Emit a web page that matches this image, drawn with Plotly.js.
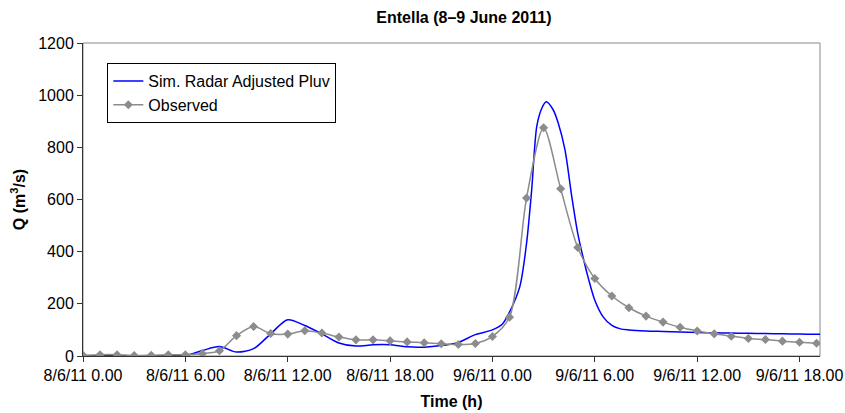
<!DOCTYPE html>
<html>
<head>
<meta charset="utf-8">
<script src="https://cdn.plot.ly/plotly-3.0.1.min.js"></script>
<style>
  html, body { margin: 0; padding: 0; background: #ffffff; }
  #chart { width: 845px; height: 413px; }
</style>
</head>
<body>
<div id="chart"></div>
<script>
// Hours elapsed since 8/6/11 0.00
const obsHours = [0, 1, 2, 3, 4, 5, 6, 7, 8, 9, 10, 11, 12, 13, 14, 15, 16, 17, 18, 19, 20, 21,
  22, 23, 24, 25, 26, 27, 28, 29, 30, 31, 32, 33, 34, 35, 36, 37, 38, 39, 40, 41, 42, 43];
// Observed discharge (m3/s), hourly
const obsQ = [3, 5, 5, 2, 3, 5, 5, 9, 20, 78, 113, 86, 84, 97, 88, 73, 62, 62, 58, 54, 51, 47,
  44, 48, 75, 149, 606, 875, 641, 416, 297, 230, 185, 153, 130, 110, 96, 85, 76, 67, 63, 57, 53, 49];

// Simulated discharge (radar-adjusted pluviometers)
const simHours = [0, 1, 2, 3, 4, 5, 6, 7, 8, 9, 10, 11, 12, 13, 14, 15, 16, 17, 18, 19, 20, 21,
  22, 23, 24, 24.6, 25, 25.6, 26, 26.3, 26.6, 26.9, 27.15, 27.55, 27.85, 28.25, 28.65, 29, 29.35,
  29.65, 30, 30.5, 31, 31.5, 32, 33, 34, 35, 36, 37, 38, 39, 40, 41, 42, 43, 43.2];
const simQ = [1, 1, 1, 1, 1, 1, 2, 21, 36, 15, 28, 85, 139, 117, 85, 50, 38, 43, 43, 35, 34, 40,
  52, 82, 100, 124, 168, 265, 432, 637, 881, 951, 975, 945, 894, 791, 611, 470, 368,
  291, 214, 149, 117, 104, 100, 96, 94, 92, 90, 89, 88, 87, 86, 85, 84, 83, 83];

const tickHours = [0, 6, 12, 18, 24, 30, 36, 42];
const tickLabels = ['8/6/11 0.00', '8/6/11 6.00', '8/6/11 12.00', '8/6/11 18.00',
  '9/6/11 0.00', '9/6/11 6.00', '9/6/11 12.00', '9/6/11 18.00'];

const seriesNames = ['Sim. Radar Adjusted Pluv', 'Observed'];

const FONT = 'Liberation Sans, Arial, sans-serif';

const traces = [
  {
    x: simHours, y: simQ, name: seriesNames[0],
    type: 'scatter', mode: 'lines',
    line: { color: '#0000ff', width: 1.5, shape: 'spline', smoothing: 0.8 }
  },
  {
    x: obsHours, y: obsQ, name: seriesNames[1],
    type: 'scatter', mode: 'lines+markers',
    line: { color: '#8c8c8c', width: 1.5, shape: 'spline', smoothing: 0.8 },
    marker: { symbol: 'diamond', size: 7, color: '#8c8c8c' }
  }
];

const layout = {
  width: 845, height: 413,
  margin: { l: 83, r: 25, t: 43, b: 57, pad: 0 },
  paper_bgcolor: '#ffffff', plot_bgcolor: '#ffffff',
  font: { family: FONT, size: 16, color: '#000000' },
  title: {
    text: '<b>Entella (8–9 June 2011)</b>',
    font: { family: FONT, size: 16, color: '#000000' },
    x: 0.549, xref: 'container', xanchor: 'center',
    y: 0.959, yref: 'container', yanchor: 'middle'
  },
  xaxis: {
    range: [0, 43.2], tickmode: 'array', tickvals: tickHours, ticktext: tickLabels,
    showgrid: false, zeroline: false,
    showline: true, linecolor: '#333333', linewidth: 1,
    ticks: 'outside', ticklen: 5, tickcolor: '#333333', tickwidth: 1,
    tickfont: { family: FONT, size: 16, color: '#000000' },
    title: { text: '<b>Time (h)</b>', font: { family: FONT, size: 16 }, standoff: 12 },
    automargin: false
  },
  yaxis: {
    range: [0, 1200], dtick: 200, tick0: 0,
    showgrid: false, zeroline: false,
    showline: true, linecolor: '#333333', linewidth: 1,
    ticks: 'outside', ticklen: 5, tickcolor: '#333333', tickwidth: 1,
    tickfont: { family: FONT, size: 16, color: '#000000' },
    title: { text: '<b>Q (m<sup>3</sup>/s)</b>', font: { family: FONT, size: 16 }, standoff: 8 },
    automargin: false
  },
  shapes: [
    { type: 'rect', xref: 'paper', yref: 'paper', x0: 0, x1: 1, y0: 0, y1: 1,
      line: { color: '#888888', width: 1 }, layer: 'below' }
  ],
  showlegend: true,
  legend: {
    x: 0.033, y: 0.936, xanchor: 'left', yanchor: 'top',
    bgcolor: '#ffffff', bordercolor: '#000000', borderwidth: 1,
    font: { family: FONT, size: 16, color: '#000000' },
    itemwidth: 30, tracegroupgap: 0
  }
};

Plotly.newPlot('chart', traces, layout, { staticPlot: true, displayModeBar: false });
</script>
</body>
</html>
